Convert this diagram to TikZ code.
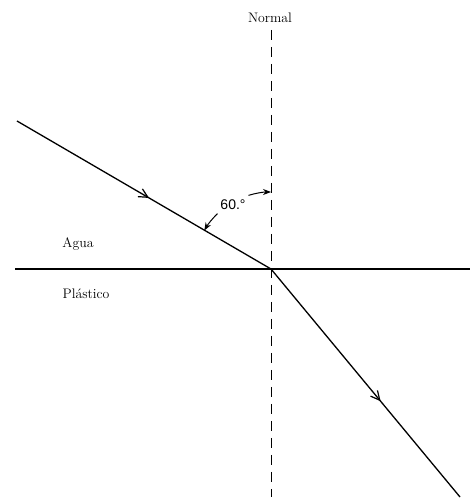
\documentclass[tikz,border=0pt]{standalone}
\usepackage{fontspec}
\newfontfamily\labsans{Liberation Sans}
\usetikzlibrary{arrows.meta,decorations.markings}
\begin{document}
\begin{tikzpicture}[x=1pt,y=1pt,
  ray/.style={line width=1.3pt},
  midarrow/.style={postaction={decorate},decoration={markings,
     mark=at position #1 with {\arrow{Straight Barb[length=9pt,width=9pt,line width=1.2pt]}}}},
  anglearrow/.style={line width=1pt,-{Stealth[length=8pt,width=6pt]}},
  lab/.style={font=\fontsize{13.8}{16}\selectfont, inner sep=0pt}]
\useasboundingbox (0,0) rectangle (470,499);
\coordinate (O) at (271,230);
\coordinate (A) at (17,378);
\coordinate (B) at (460,2);
\coordinate (N1) at (271,469);
\coordinate (N2) at (271,2);
\coordinate (H1) at (15,230);
\coordinate (H2) at (470,230);
% normal
\draw[line width=0.9pt, dash pattern=on 10pt off 7pt] (N1) -- (N2);
% interface
\draw[line width=1.3pt] (H1) -- (H2);
% rays
\draw[ray, midarrow=0.52] (A) -- (O);
\draw[ray, midarrow=0.58] (O) -- (B);
% angle arrows
\draw[anglearrow] ([shift={(134:77)}]O) arc[start angle=134, end angle=150, radius=77];
\draw[anglearrow] ([shift={(107:77)}]O) arc[start angle=107, end angle=90, radius=77];
% labels
\node[lab] (normal) at (270,481) {Normal};
\node[lab] (agua) at (78,255) {Agua};
\node[lab] (plastico) at (86,205) {Plástico};
\node[inner sep=0pt, font=\labsans\fontsize{14}{16}\selectfont] (ang) at (233,294) {60.°};
\end{tikzpicture}
\end{document}
